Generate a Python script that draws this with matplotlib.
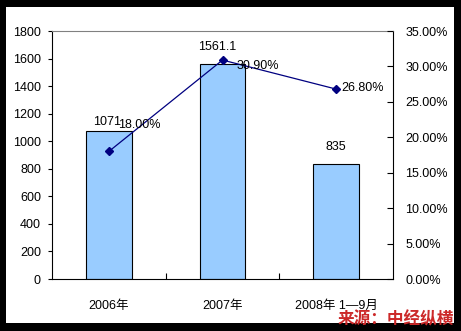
import matplotlib
matplotlib.use("Agg")
from matplotlib import pyplot as plt
from matplotlib.patches import Rectangle

plt.rcParams['font.family'] = ['Liberation Sans', 'Noto Sans CJK SC', 'DejaVu Sans']

categories = ["2006年", "2007年", "2008年 1—9月"]
amounts = [1071, 1561.1, 835]
growth_pct = [18.00, 30.90, 26.80]
amount_labels = ["1071", "1561.1", "835"]
growth_labels = ["18.00%", "30.90%", "26.80%"]

# label offsets in pixels (x, y) relative to the mark
amount_offsets = [(-2, 9), (-5, 17), (0, 17)]
growth_offsets = [(9, 26), (14, -6), (5, 1)]

fig = plt.figure(figsize=(4.61, 3.31), dpi=100, facecolor="black")
fig.patches.append(Rectangle((6 / 461, 8 / 331), 448 / 461, 316 / 331,
                             transform=fig.transFigure, facecolor="white",
                             edgecolor="none", zorder=0))

ax = fig.add_axes([52 / 461, 52 / 331, 341 / 461, 248 / 331])
ax.set_zorder(1)
x = list(range(len(categories)))
ax.bar(x, amounts, width=0.4, color="#99CCFF", edgecolor="black", linewidth=0.8, zorder=2)
ax.set_xlim(-0.5, 2.5)
ax.set_ylim(0, 1800)
ax.set_yticks(range(0, 1801, 200))
ax.tick_params(axis="y", direction="out", length=3, width=0.8, pad=5, labelsize=9)
ax.set_xticks([0.5, 1.5])
ax.set_xticklabels([])
ax.set_xticks(x, minor=True)
ax.set_xticklabels(categories, minor=True, fontsize=9)
ax.tick_params(axis="x", which="major", direction="in", length=4, width=0.8)
ax.tick_params(axis="x", which="minor", length=0, pad=15)
for s in ["left", "bottom", "right"]:
    ax.spines[s].set_color("black")
    ax.spines[s].set_linewidth(0.8)
ax.spines["top"].set_color("#808080")
ax.spines["top"].set_linewidth(0.8)

for i, v in enumerate(amounts):
    ax.annotate(amount_labels[i], (i, v), xytext=amount_offsets[i], textcoords="offset pixels",
                ha="center", va="center", fontsize=9, zorder=5)

ax2 = ax.twinx()
ax2.plot(x, growth_pct, color="#000080", linewidth=0.9, marker="D", markersize=4.5, zorder=3)
ax2.set_ylim(0, 35)
ax2.set_yticks([0, 5, 10, 15, 20, 25, 30, 35])
ax2.set_yticklabels(["%.2f%%" % t for t in [0, 5, 10, 15, 20, 25, 30, 35]])
ax2.tick_params(axis="y", direction="in", length=4, width=0.8, pad=9, labelsize=9)
for s in ax2.spines.values():
    s.set_visible(False)

for i, v in enumerate(growth_pct):
    ax2.annotate(growth_labels[i], (i, v), xytext=growth_offsets[i], textcoords="offset pixels",
                 ha="left", va="center", fontsize=9, zorder=5)

fig.text(396 / 461, 12 / 331, "来源：中经纵横", color="#CC2929", fontsize=12,
         fontweight="bold", ha="center", va="center", family=["Noto Sans CJK SC"])

fig.savefig("out.png", dpi=100, facecolor=fig.get_facecolor())
